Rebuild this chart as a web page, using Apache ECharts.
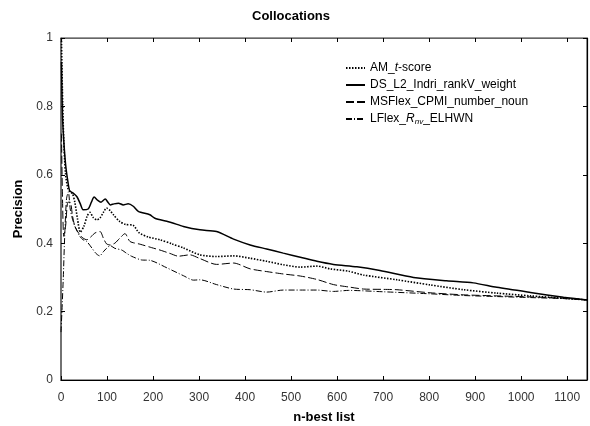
<!DOCTYPE html>
<html>
<head>
<meta charset="utf-8">
<script src="https://cdn.jsdelivr.net/npm/echarts@6/dist/echarts.min.js"></script>
<style>
html,body{margin:0;padding:0;background:#fff;}
#chart{width:590px;height:426px;}
</style>
</head>
<body>
<div id="chart"></div>
<script>
// ---- data ----
var title = 'Collocations';
var xName = 'n-best list';
var yName = 'Precision';
var xTicks = [0,100,200,300,400,500,600,700,800,900,1000,1100];
var yTicks = [0,0.2,0.4,0.6,0.8,1];

var amX = [1,3,6,10,15,20,25,30,36,42,50,57,63,70,78,85,92,99,107,114,128,140,157,170,190,215,241,266,302,338,375,411,447,483,520,556,585,625,657,730,802,875,947,1020,1092,1143];
var amY = [1.0,0.85,0.7,0.6,0.56,0.55,0.545,0.52,0.47,0.432,0.45,0.48,0.49,0.475,0.468,0.474,0.49,0.503,0.495,0.483,0.463,0.455,0.452,0.43,0.418,0.41,0.398,0.386,0.366,0.361,0.363,0.356,0.347,0.337,0.33,0.333,0.325,0.318,0.307,0.293,0.278,0.264,0.254,0.246,0.239,0.234];

var dsX = [1,3,6,10,15,19,27,35,42,48,59,66,72,80,87,96,102,107,115,125,135,146,157,168,193,204,230,241,266,302,338,375,411,447,483,520,556,592,643,693,766,838,896,947,1020,1092,1143];
var dsY = [0.93,0.78,0.7,0.63,0.58,0.553,0.546,0.535,0.515,0.498,0.5,0.52,0.535,0.525,0.52,0.529,0.52,0.512,0.515,0.517,0.512,0.515,0.508,0.493,0.483,0.473,0.464,0.46,0.449,0.439,0.434,0.412,0.395,0.383,0.371,0.359,0.347,0.338,0.331,0.32,0.3,0.29,0.284,0.271,0.256,0.242,0.234];

var msX = [1,3,6,10,15,20,25,30,38,48,56,66,74,85,92,99,107,117,128,139,150,172,197,215,237,255,280,302,338,375,411,447,483,520,556,592,625,657,700,730,802,875,947,1020,1092,1143];
var msY = [0.72,0.55,0.42,0.45,0.52,0.52,0.48,0.45,0.43,0.415,0.41,0.42,0.43,0.434,0.415,0.398,0.395,0.4,0.415,0.428,0.405,0.397,0.387,0.38,0.37,0.362,0.366,0.355,0.338,0.342,0.325,0.317,0.31,0.304,0.294,0.279,0.272,0.266,0.265,0.264,0.255,0.249,0.246,0.243,0.239,0.234];

var lfX = [0,2,5,8,12,16,20,25,30,41,48,56,67,76,84,92,99,107,117,132,143,153,175,193,230,266,288,302,338,375,411,447,483,520,556,592,625,700,802,875,947,1020,1092,1143];
var lfY = [0.14,0.2,0.3,0.42,0.53,0.55,0.5,0.47,0.45,0.42,0.41,0.405,0.386,0.37,0.363,0.375,0.385,0.393,0.385,0.38,0.37,0.362,0.351,0.35,0.328,0.305,0.292,0.293,0.279,0.266,0.264,0.257,0.263,0.263,0.263,0.259,0.262,0.258,0.252,0.247,0.244,0.241,0.238,0.234];

var seriesNames = ['AM_t-score','DS_L2_Indri_rankV_weight','MSFlex_CPMI_number_noun','LFlex_Rnv_ELHWN'];

function pairs(xs, ys){ return xs.map(function(x,i){ return [x, ys[i]]; }); }

var chart = echarts.init(document.getElementById('chart'), null, {renderer:'canvas'});
var font = 'Liberation Sans, Arial, sans-serif';

function mkSeries(name, xs, ys, type, width){
  return {
    name: name, type: 'line', data: pairs(xs, ys),
    symbol: 'none', smooth: 0.25, xAxisIndex: 0, yAxisIndex: 0,
    lineStyle: {color: '#000', width: width, type: type},
    itemStyle: {color: '#000'},
    animation: false
  };
}

var richLeg = {
  n: {fontFamily: font, fontSize: 12, color: '#000'},
  i: {fontFamily: font, fontSize: 12, color: '#000', fontStyle: 'italic'},
  s: {fontFamily: font, fontSize: 8, color: '#000', fontStyle: 'italic', verticalAlign: 'bottom', padding: [6,0,0,0]}
};

var option = {
  animation: false,
  backgroundColor: '#fff',
  title: {
    text: title, left: 286, top: 5, textAlign: 'center',
    textStyle: {fontFamily: font, fontSize: 13, fontWeight: 'bold', color: '#000'}
  },
  legend: {
    orient: 'vertical', left: 340, top: 57,
    itemWidth: 19, itemHeight: 10, itemGap: 5,
    data: seriesNames,
    itemStyle: {opacity: 0},
    textStyle: {fontFamily: font, fontSize: 12, color: '#000', rich: richLeg},
    formatter: function(n){
      if (n === 'AM_t-score') return '{n|AM_}{i|t}{n|-score}';
      if (n === 'LFlex_Rnv_ELHWN') return '{n|LFlex_}{i|R}{s|nv}{n|_ELHWN}';
      return '{n|' + n + '}';
    }
  },
  grid: {left: 61, right: 3, top: 38, bottom: 46, show: true, borderColor: '#333', borderWidth: 1,
         backgroundColor: 'transparent', containLabel: false, outerBoundsMode: 'none'},
  xAxis: [{
    type: 'value', min: 0, max: 1143, interval: 100, position: 'bottom',
    name: xName, nameLocation: 'middle', nameGap: 31,
    nameTextStyle: {fontFamily: font, fontSize: 13, fontWeight: 'bold', color: '#000'},
    axisLine: {show: true, onZero: false, lineStyle: {color: '#000', width: 1}},
    axisTick: {show: true, inside: true, length: 4, lineStyle: {color: '#000'}},
    axisLabel: {fontFamily: font, fontSize: 12, color: '#333', margin: 12, showMaxLabel: false,
      formatter: function(v){ return xTicks.indexOf(v) >= 0 ? String(v) : ''; }},
    splitLine: {show: false}
  },{
    type: 'value', min: 0, max: 1143, interval: 100, position: 'top',
    axisLine: {show: true, onZero: false, lineStyle: {color: '#666', width: 1.2}},
    axisTick: {show: true, inside: true, length: 4, lineStyle: {color: '#000'}},
    axisLabel: {show: false}, splitLine: {show: false}
  }],
  yAxis: [{
    type: 'value', min: 0, max: 1, interval: 0.2, position: 'left',
    name: yName, nameLocation: 'middle', nameGap: 34,
    nameTextStyle: {fontFamily: font, fontSize: 13, fontWeight: 'bold', color: '#000'},
    axisLine: {show: true, onZero: false, lineStyle: {color: '#666', width: 1.5}},
    axisTick: {show: true, inside: true, length: 4, lineStyle: {color: '#000'}},
    axisLabel: {fontFamily: font, fontSize: 12, color: '#333', margin: 8,
      formatter: function(v){ var r = Math.round(v*10)/10; return yTicks.indexOf(r) >= 0 ? String(r) : ''; }},
    splitLine: {show: false}
  },{
    type: 'value', min: 0, max: 1, interval: 0.2, position: 'right',
    axisLine: {show: true, onZero: false, lineStyle: {color: '#000', width: 1.2}},
    axisTick: {show: true, inside: true, length: 4, lineStyle: {color: '#000'}},
    axisLabel: {show: false}, splitLine: {show: false}
  }],
  series: [
    mkSeries(seriesNames[0], amX, amY, [1.5,1.5], 1.6),
    mkSeries(seriesNames[1], dsX, dsY, 'solid', 1.5),
    mkSeries(seriesNames[2], msX, msY, [8,3], 1),
    mkSeries(seriesNames[3], lfX, lfY, [6,2,1,2], 1)
  ]
};
chart.setOption(option);
</script>
</body>
</html>
